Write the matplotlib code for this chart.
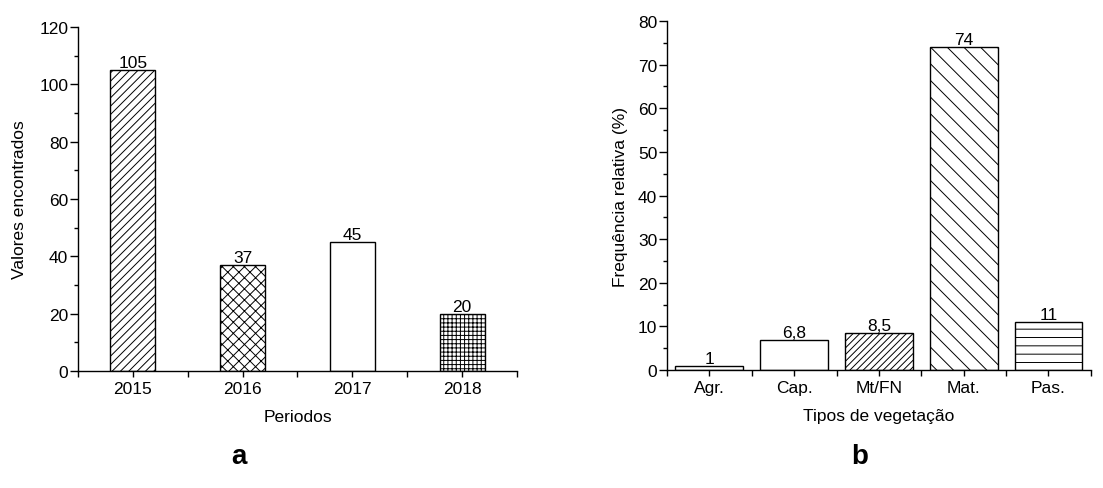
import matplotlib
matplotlib.use("Agg")
import matplotlib.pyplot as plt
from matplotlib.ticker import MultipleLocator

plt.rcParams["font.family"] = ["Liberation Sans", "DejaVu Sans"]
plt.rcParams["hatch.linewidth"] = 0.7

# ===== Data =====
periodos = ["2015", "2016", "2017", "2018"]
valores = [105, 37, 45, 20]
hatch_a = ["////", "xxx", "", "++++"]

tipos = ["Agr.", "Cap.", "Mt/FN", "Mat.", "Pas."]
freq = [1, 6.8, 8.5, 74, 11]
freq_txt = ["1", "6,8", "8,5", "74", "11"]
hatch_b = ["", "", "/////", "\\\\", "--"]

FS = 12.5

fig = plt.figure(figsize=(11.03, 4.89), dpi=100)
ax1 = fig.add_axes([0.0707, 0.2393, 0.398, 0.7034])
ax2 = fig.add_axes([0.6047, 0.2413, 0.3843, 0.7137])


def style(ax):
    for s in ["top", "right"]:
        ax.spines[s].set_visible(False)
    for s in ["left", "bottom"]:
        ax.spines[s].set_linewidth(1.0)
    ax.tick_params(axis="both", which="both", direction="out", width=1, labelsize=FS)
    ax.tick_params(axis="y", which="major", length=5.5, pad=1.5)
    ax.tick_params(axis="y", which="minor", length=3)
    ax.tick_params(axis="x", which="both", length=4.5, pad=3)


# ===== Panel a =====
xa = range(len(periodos))
bars = ax1.bar(xa, valores, width=0.41, color="white", edgecolor="black", linewidth=1.0)
for b, h in zip(bars, hatch_a):
    b.set_hatch(h)
for x, v in zip(xa, valores):
    ax1.text(x, v, str(v), ha="center", va="bottom", fontsize=FS)
ax1.set_xlim(-0.5, 3.5)
ax1.set_ylim(0, 120)
ax1.set_xticks(list(xa))
ax1.set_xticklabels(periodos)
ax1.set_xticks([-0.5, 0.5, 1.5, 2.5, 3.5], minor=True)
ax1.yaxis.set_major_locator(MultipleLocator(20))
ax1.yaxis.set_minor_locator(MultipleLocator(10))
ax1.set_xlabel("Periodos", fontsize=FS, labelpad=9)
ax1.set_ylabel("Valores encontrados", fontsize=FS, labelpad=9)
style(ax1)

# ===== Panel b =====
xb = range(len(tipos))
bars = ax2.bar(xb, freq, width=0.8, color="white", edgecolor="black", linewidth=1.0)
for b, h in zip(bars, hatch_b):
    b.set_hatch(h)
for x, v, t in zip(xb, freq, freq_txt):
    ax2.text(x, v, t, ha="center", va="bottom", fontsize=FS)
ax2.set_xlim(-0.5, 4.5)
ax2.set_ylim(0, 80)
ax2.set_xticks(list(xb))
ax2.set_xticklabels(tipos)
ax2.set_xticks([-0.5, 0.5, 1.5, 2.5, 3.5, 4.5], minor=True)
ax2.yaxis.set_major_locator(MultipleLocator(10))
ax2.yaxis.set_minor_locator(MultipleLocator(5))
ax2.set_xlabel("Tipos de vegetação", fontsize=FS, labelpad=9)
ax2.set_ylabel("Frequência relativa (%)", fontsize=FS, labelpad=7)
style(ax2)

fig.text(0.2167, 0.052, "a", fontsize=20, fontweight="bold", ha="center", va="baseline")
fig.text(0.7797, 0.052, "b", fontsize=20, fontweight="bold", ha="center", va="baseline")

fig.savefig("out.png", dpi=100)
